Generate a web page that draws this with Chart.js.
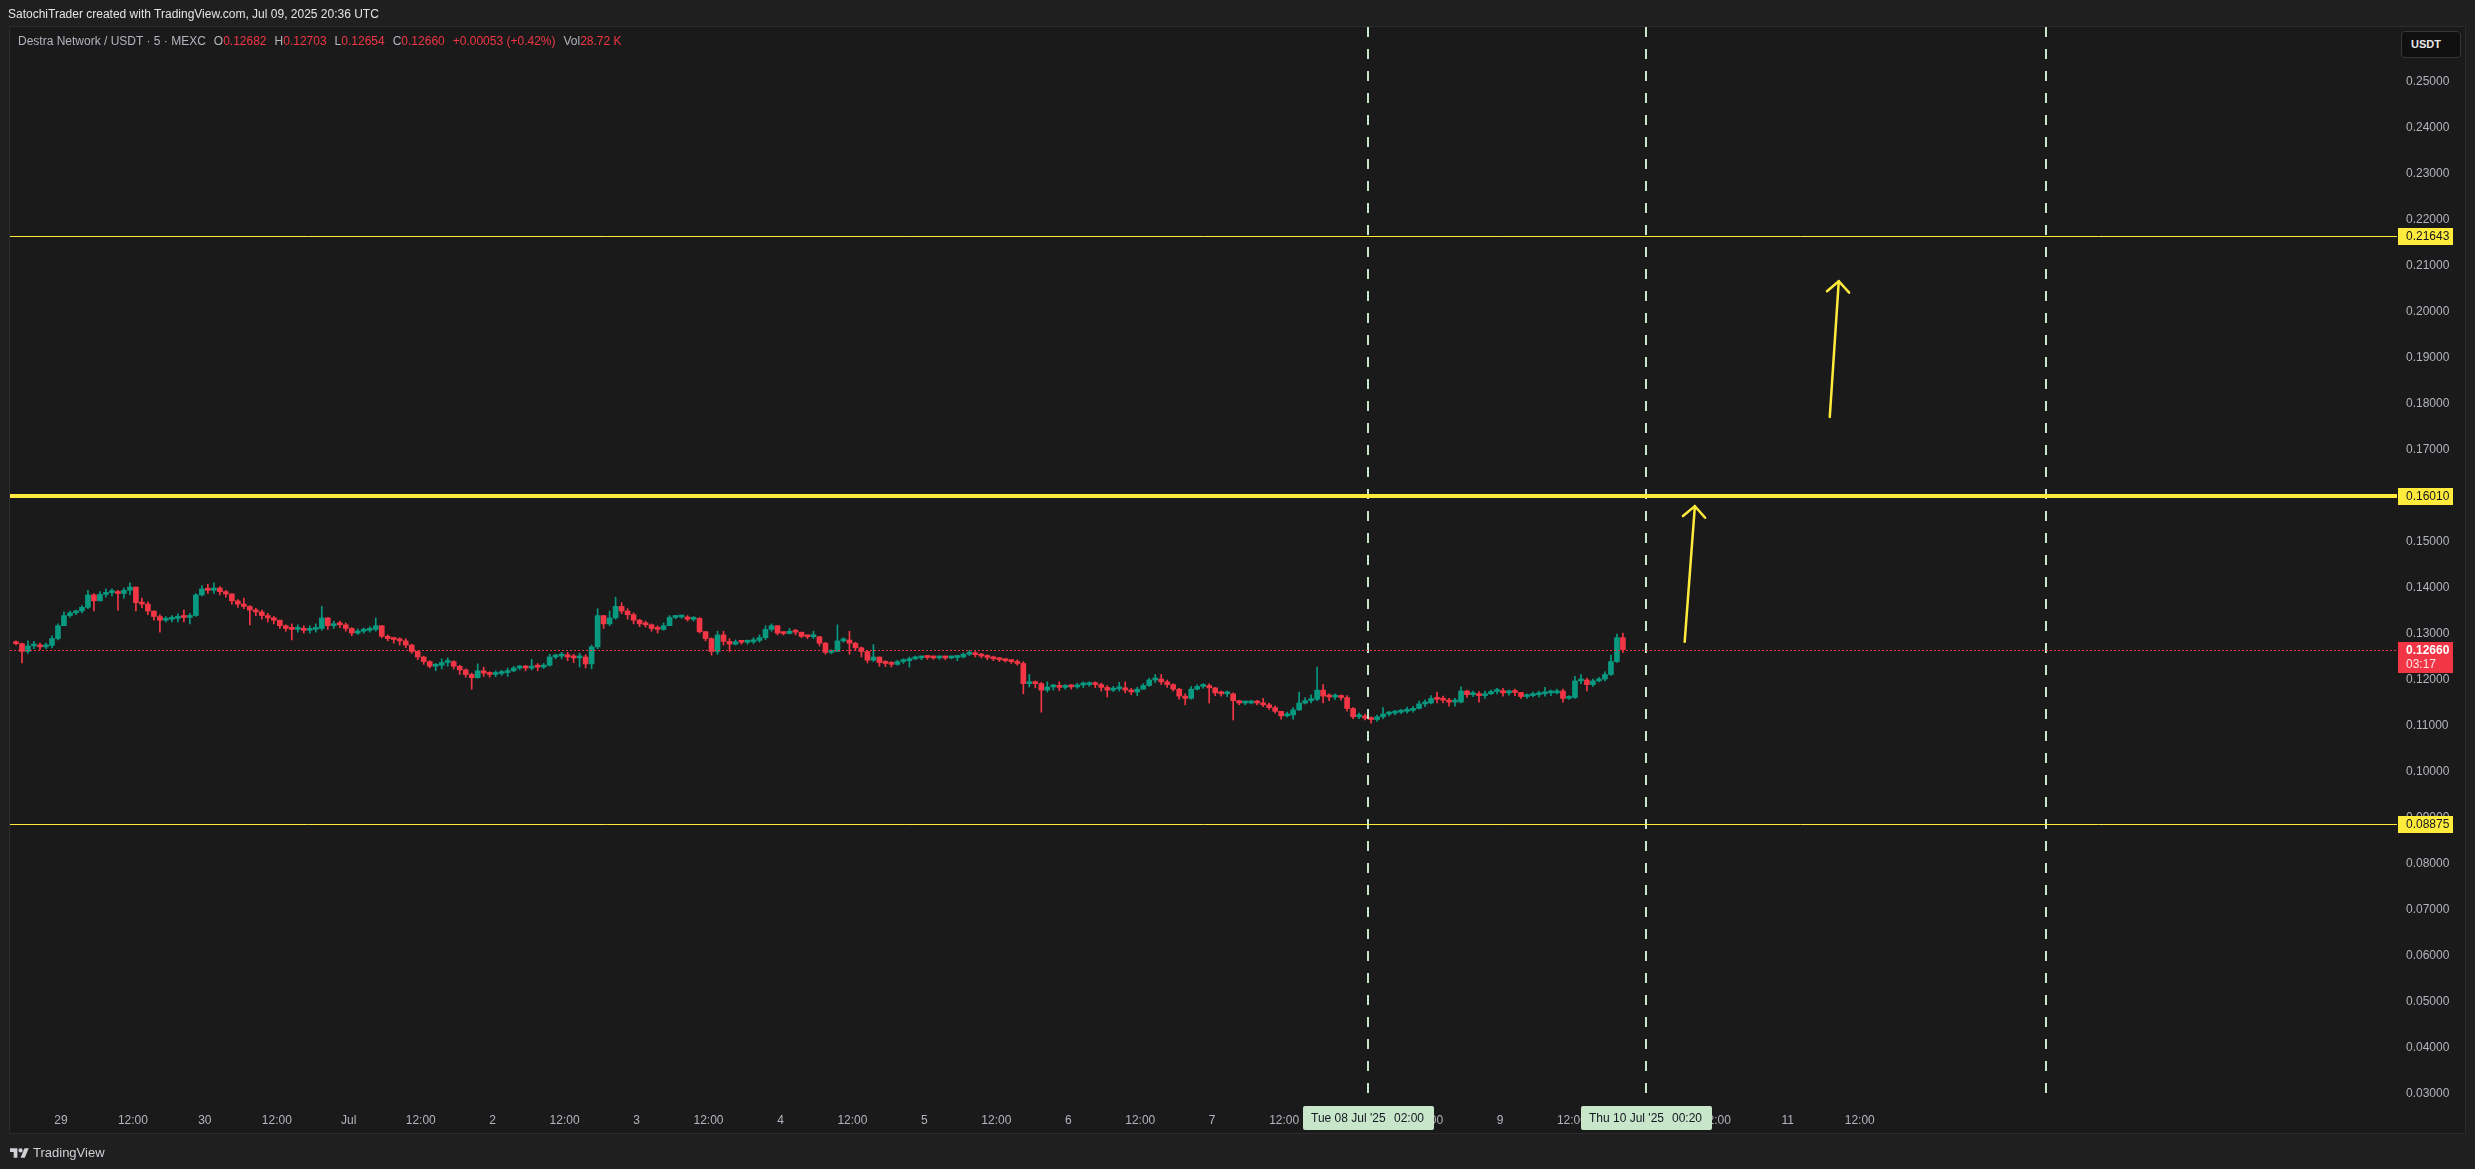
<!DOCTYPE html>
<html>
<head>
<meta charset="utf-8">
<title>Destra Network / USDT</title>
<script src="https://cdn.jsdelivr.net/npm/chart.js@4.4.1/dist/chart.umd.min.js"></script>
<style>
  html, body { margin: 0; padding: 0; background: #1f1f1f; }
  body { width: 2475px; height: 1169px; position: relative; overflow: hidden;
         font-family: "Liberation Sans", Arial, sans-serif; }
  #pane { position: absolute; left: 9px; top: 26px; width: 2457px; height: 1108px;
          background: #1a1a1a; border: 1px solid #2c2c2c; box-sizing: border-box; }
  #c { position: absolute; left: 0; top: 0; }
  #title { position: absolute; left: 8px; top: 7px; font-size: 12px; color: #e4e4e4; white-space: nowrap; }
  #legend { position: absolute; left: 18px; top: 34px; font-size: 12px; color: #b2b5be; white-space: nowrap; }
  #legend .grp { margin-left: 8px; }
  #legend .r { color: #f23645; }
  #unit { position: absolute; left: 2401px; top: 31px; width: 60px; height: 27px; box-sizing: border-box;
          background: #0f0f0f; border: 1px solid #363636; border-radius: 4px; color: #e8e8e8;
          font-size: 11px; font-weight: bold; line-height: 25px; padding-left: 9px; }
  #logo { position: absolute; left: 10px; top: 1145px; height: 14px; display: flex; align-items: center;
          color: #cfd1d6; font-size: 13px; }
  #logo svg { margin-right: 4px; }
</style>
</head>
<body>
<div id="pane"></div>
<canvas id="c" width="2475" height="1169"></canvas>
<div id="title">SatochiTrader created with TradingView.com, Jul 09, 2025 20:36 UTC</div>
<div id="legend">Destra Network / USDT · 5 · MEXC<span class="grp">O<span class="r">0.12682</span></span><span class="grp">H<span class="r">0.12703</span></span><span class="grp">L<span class="r">0.12654</span></span><span class="grp">C<span class="r">0.12660</span></span><span class="grp r">+0.00053 (+0.42%)</span><span class="grp">Vol<span class="r">28.72 K</span></span></div>
<div id="unit">USDT</div>
<div id="logo"><svg width="19" height="13" viewBox="0 0 36 24"><path d="M14 22H7V11H0V4h14v18z" fill="#cfd1d6"/><circle cx="20" cy="8" r="4" fill="#cfd1d6"/><path d="M28 22h-8l7.5-18h8L28 22z" fill="#cfd1d6"/></svg>TradingView</div>

<script>
// hourly candles, first one starts 28 Jun 16:00 UTC (hours counted from 29 Jun 00:00 UTC)
const startHour = -8;
const firstOpen = 0.1281;

const closes = [
  0.1279,0.1262,0.1274,0.1276,0.1272,0.1275,0.1290,0.1318,0.1340,0.1346,0.1350,0.1358,
  0.1385,0.1372,0.1386,0.1390,0.1392,0.1388,0.1395,0.1402,0.1368,0.1365,0.1350,0.1338,
  0.1330,0.1332,0.1334,0.1338,0.1336,0.1340,0.1385,0.1398,0.1395,0.1400,0.1392,0.1387,
  0.1372,0.1365,0.1360,0.1352,0.1348,0.1340,0.1335,0.1330,0.1318,0.1312,0.1310,0.1312,
  0.1308,0.1310,0.1312,0.1335,0.1318,0.1322,0.1320,0.1312,0.1302,0.1306,0.1308,0.1310,
  0.1318,0.1295,0.1290,0.1288,0.1285,0.1276,0.1262,0.1250,0.1240,0.1230,0.1232,0.1238,
  0.1240,0.1230,0.1222,0.1212,0.1205,0.1220,0.1215,0.1212,0.1214,0.1216,0.1220,0.1226,
  0.1228,0.1226,0.1230,0.1228,0.1232,0.1250,0.1252,0.1255,0.1250,0.1248,0.1250,0.1235,
  0.1272,0.1340,0.1322,0.1335,0.1360,0.1350,0.1342,0.1330,0.1322,0.1320,0.1312,0.1310,
  0.1318,0.1336,0.1337,0.1337,0.1332,0.1334,0.1305,0.1290,0.1262,0.1298,0.1284,0.1278,
  0.1283,0.1282,0.1283,0.1286,0.1292,0.1310,0.1318,0.1302,0.1301,0.1306,0.1304,0.1295,
  0.1294,0.1294,0.1280,0.1260,0.1262,0.1285,0.1287,0.1280,0.1270,0.1262,0.1243,0.1250,
  0.1238,0.1236,0.1234,0.1240,0.1242,0.1246,0.1248,0.1250,0.1249,0.1248,0.1249,0.1248,
  0.1249,0.1250,0.1256,0.1258,0.1255,0.1252,0.1249,0.1246,0.1244,0.1242,0.1240,0.1236,
  0.1192,0.1194,0.1192,0.1178,0.1185,0.1186,0.1184,0.1186,0.1185,0.1189,0.1190,0.1192,
  0.1190,0.1184,0.1178,0.1181,0.1183,0.1178,0.1174,0.1180,0.1188,0.1200,0.1202,0.1196,
  0.1190,0.1180,0.1165,0.1160,0.1180,0.1186,0.1188,0.1183,0.1172,0.1170,0.1170,0.1155,
  0.1150,0.1150,0.1152,0.1150,0.1146,0.1140,0.1132,0.1122,0.1124,0.1135,0.1150,0.1155,
  0.1158,0.1178,0.1165,0.1163,0.1165,0.1162,0.1138,0.1120,0.1122,0.1117,0.1114,0.1120,
  0.1126,0.1128,0.1130,0.1132,0.1134,0.1138,0.1148,0.1150,0.1160,0.1158,0.1156,0.1152,
  0.1152,0.1176,0.1168,0.1170,0.1166,0.1170,0.1175,0.1177,0.1172,0.1174,0.1173,0.1164,
  0.1166,0.1168,0.1170,0.1172,0.1172,0.1176,0.1160,0.1162,0.1198,0.1200,0.1190,0.1198,
  0.1202,0.1212,0.1240,0.1292,0.1266
];

const highs = [
  0.1285,0.1280,0.1285,0.1284,0.1280,0.1280,0.1296,0.1322,0.1348,0.1350,0.1352,0.1362,
  0.1395,0.1388,0.1392,0.1398,0.1398,0.1395,0.1400,0.1411,0.1402,0.1378,0.1370,0.1350,
  0.1342,0.1338,0.1340,0.1344,0.1352,0.1345,0.1388,0.1405,0.1408,0.1411,0.1403,0.1395,
  0.1388,0.1375,0.1378,0.1362,0.1356,0.1352,0.1345,0.1338,0.1330,0.1320,0.1322,0.1320,
  0.1318,0.1318,0.1322,0.1360,0.1336,0.1328,0.1328,0.1324,0.1314,0.1311,0.1313,0.1316,
  0.1335,0.1318,0.1298,0.1293,0.1292,0.1290,0.1278,0.1263,0.1252,0.1242,0.1236,0.1246,
  0.1248,0.1242,0.1232,0.1224,0.1215,0.1235,0.1228,0.1218,0.1220,0.1221,0.1226,0.1230,
  0.1232,0.1232,0.1245,0.1236,0.1236,0.1256,0.1256,0.1260,0.1260,0.1256,0.1258,0.1255,
  0.1276,0.1355,0.1340,0.1350,0.1380,0.1368,0.1355,0.1346,0.1332,0.1328,0.1322,0.1318,
  0.1324,0.1340,0.1340,0.1340,0.1340,0.1338,0.1336,0.1306,0.1292,0.1306,0.1306,0.1290,
  0.1287,0.1286,0.1287,0.1292,0.1298,0.1318,0.1322,0.1318,0.1304,0.1312,0.1310,0.1304,
  0.1297,0.1306,0.1295,0.1282,0.1266,0.1320,0.1292,0.1306,0.1282,0.1272,0.1264,0.1277,
  0.1250,0.1242,0.1240,0.1243,0.1246,0.1250,0.1252,0.1252,0.1252,0.1252,0.1252,0.1252,
  0.1252,0.1253,0.1259,0.1264,0.1262,0.1258,0.1255,0.1252,0.1249,0.1246,0.1244,0.1244,
  0.1240,0.1212,0.1198,0.1195,0.1196,0.1190,0.1196,0.1190,0.1190,0.1193,0.1196,0.1196,
  0.1196,0.1193,0.1188,0.1186,0.1195,0.1196,0.1182,0.1184,0.1192,0.1204,0.1212,0.1212,
  0.1200,0.1192,0.1182,0.1170,0.1186,0.1190,0.1192,0.1192,0.1184,0.1176,0.1176,0.1172,
  0.1156,0.1154,0.1156,0.1156,0.1160,0.1150,0.1144,0.1132,0.1130,0.1140,0.1174,0.1162,
  0.1168,0.1228,0.1190,0.1170,0.1170,0.1168,0.1166,0.1140,0.1128,0.1126,0.1120,0.1124,
  0.1140,0.1132,0.1134,0.1136,0.1141,0.1143,0.1154,0.1157,0.1166,0.1174,0.1165,0.1160,
  0.1160,0.1185,0.1178,0.1176,0.1175,0.1176,0.1178,0.1182,0.1182,0.1178,0.1180,0.1172,
  0.1170,0.1174,0.1176,0.1184,0.1178,0.1180,0.1180,0.1166,0.1208,0.1212,0.1204,0.1202,
  0.1206,0.1218,0.1254,0.1300,0.1302
];

const lows = [
  0.1276,0.1237,0.1258,0.1268,0.1266,0.1268,0.1270,0.1287,0.1318,0.1336,0.1342,0.1346,
  0.1355,0.1350,0.1372,0.1380,0.1383,0.1352,0.1378,0.1385,0.1350,0.1357,0.1342,0.1330,
  0.1304,0.1326,0.1326,0.1326,0.1326,0.1322,0.1338,0.1383,0.1388,0.1388,0.1385,0.1380,
  0.1365,0.1358,0.1355,0.1320,0.1340,0.1332,0.1326,0.1322,0.1312,0.1306,0.1287,0.1304,
  0.1302,0.1302,0.1304,0.1308,0.1310,0.1312,0.1314,0.1306,0.1296,0.1299,0.1302,0.1304,
  0.1306,0.1292,0.1285,0.1280,0.1276,0.1270,0.1258,0.1244,0.1234,0.1226,0.1220,0.1224,
  0.1230,0.1224,0.1212,0.1206,0.1180,0.1204,0.1208,0.1206,0.1207,0.1210,0.1208,0.1218,
  0.1222,0.1220,0.1222,0.1220,0.1225,0.1230,0.1246,0.1246,0.1242,0.1238,0.1228,0.1226,
  0.1224,0.1268,0.1312,0.1318,0.1332,0.1344,0.1332,0.1322,0.1316,0.1315,0.1306,0.1302,
  0.1308,0.1318,0.1333,0.1334,0.1328,0.1328,0.1302,0.1285,0.1254,0.1256,0.1276,0.1262,
  0.1276,0.1278,0.1278,0.1279,0.1282,0.1288,0.1306,0.1298,0.1298,0.1300,0.1298,0.1292,
  0.1290,0.1290,0.1274,0.1256,0.1257,0.1262,0.1282,0.1256,0.1264,0.1250,0.1237,0.1240,
  0.1230,0.1229,0.1228,0.1232,0.1236,0.1228,0.1244,0.1244,0.1245,0.1245,0.1245,0.1244,
  0.1246,0.1242,0.1248,0.1253,0.1250,0.1248,0.1244,0.1242,0.1240,0.1239,0.1236,0.1232,
  0.1170,0.1185,0.1183,0.1130,0.1174,0.1178,0.1177,0.1180,0.1180,0.1182,0.1183,0.1186,
  0.1183,0.1176,0.1163,0.1175,0.1176,0.1172,0.1168,0.1166,0.1180,0.1186,0.1194,0.1190,
  0.1184,0.1176,0.1158,0.1146,0.1158,0.1178,0.1182,0.1150,0.1166,0.1165,0.1164,0.1113,
  0.1146,0.1146,0.1148,0.1146,0.1142,0.1136,0.1128,0.1115,0.1120,0.1115,0.1134,0.1148,
  0.1150,0.1155,0.1150,0.1155,0.1158,0.1156,0.1132,0.1116,0.1116,0.1113,0.1106,0.1110,
  0.1116,0.1122,0.1124,0.1127,0.1128,0.1130,0.1137,0.1142,0.1148,0.1150,0.1150,0.1143,
  0.1143,0.1150,0.1162,0.1164,0.1152,0.1160,0.1168,0.1170,0.1165,0.1167,0.1166,0.1160,
  0.1160,0.1163,0.1163,0.1165,0.1166,0.1170,0.1152,0.1158,0.1160,0.1192,0.1176,0.1186,
  0.1196,0.1198,0.1210,0.1238,0.1260
];

// axis ticks
const priceTicks = [0.03,0.04,0.05,0.06,0.07,0.08,0.09,0.10,0.11,0.12,0.13,0.14,
                    0.15,0.16,0.17,0.18,0.19,0.20,0.21,0.22,0.23,0.24,0.25];
const timeTickHours = [0,12,24,36,48,60,72,84,96,108,120,132,144,156,168,180,192,204,216,228,240,252,264,276,288,300];
const timeTickLabels = ['29','12:00','30','12:00','Jul','12:00','2','12:00','3','12:00','4','12:00','5','12:00',
                        '6','12:00','7','12:00','8','12:00','9','12:00','10','12:00','11','12:00'];

// drawings
const levelPrices = [0.21643, 0.16010, 0.08875];
const markerHours = [218, 264.333, 331];
const markerDates = ["Tue 08 Jul '25", "Thu 10 Jul '25", null];
const markerTimes = ['02:00', '00:20', null];
const arrowFromHours = [270.8, 295.0];
const arrowFromPrices = [0.1283, 0.1772];
const arrowToHours = [272.5, 296.5];
const arrowToPrices = [0.1578, 0.2067];
const lastPrice = 0.12660;
const countdown = '03:17';

// view / style
const FONT = '"Liberation Sans", Arial, sans-serif';
const UP = '#089981', DOWN = '#f23645', YELLOW = '#ffeb3b', MARK = '#c8e6c9', AXIS_TXT = '#b2b5be';
const levelWidths = [1, 4, 1];

const candles = closes.map((c, i) => {
  const o = i === 0 ? firstOpen : closes[i - 1];
  return { x: startHour + i + 0.5, o: o, h: highs[i], l: lows[i], c: c };
});
const candleColors = candles.map(k => k.c >= k.o ? UP : DOWN);

const overlay = {
  id: 'overlay',
  afterDatasetsDraw(chart) {
    const { ctx, chartArea: a, scales: { x, y } } = chart;
    ctx.save();
    ctx.beginPath();
    ctx.rect(a.left, a.top, a.right - a.left, a.bottom - a.top);
    ctx.clip();

    // dashed time markers
    ctx.strokeStyle = MARK;
    ctx.lineWidth = 2;
    ctx.setLineDash([10, 12]);
    markerHours.forEach(h => {
      const px = Math.round(x.getPixelForValue(h));
      ctx.beginPath();
      ctx.moveTo(px, a.top);
      ctx.lineTo(px, a.bottom);
      ctx.stroke();
    });
    ctx.setLineDash([]);

    // horizontal levels
    ctx.strokeStyle = YELLOW;
    levelPrices.forEach((p, i) => {
      let py = Math.round(y.getPixelForValue(p));
      if (levelWidths[i] % 2) py += 0.5;
      ctx.lineWidth = levelWidths[i];
      ctx.beginPath();
      ctx.moveTo(a.left, py);
      ctx.lineTo(a.right, py);
      ctx.stroke();
    });

    // last price line
    const ly = Math.round(y.getPixelForValue(lastPrice)) + 0.5;
    ctx.strokeStyle = DOWN;
    ctx.lineWidth = 1;
    ctx.setLineDash([2, 2]);
    ctx.beginPath();
    ctx.moveTo(a.left, ly);
    ctx.lineTo(a.right, ly);
    ctx.stroke();
    ctx.setLineDash([]);

    // arrows
    ctx.strokeStyle = YELLOW;
    ctx.lineWidth = 2.5;
    ctx.lineCap = 'round';
    arrowFromHours.forEach((h, i) => {
      const x0 = x.getPixelForValue(h), y0 = y.getPixelForValue(arrowFromPrices[i]);
      const x1 = x.getPixelForValue(arrowToHours[i]), y1 = y.getPixelForValue(arrowToPrices[i]);
      const back = Math.atan2(y0 - y1, x0 - x1);
      ctx.beginPath();
      ctx.moveTo(x0, y0);
      ctx.lineTo(x1, y1);
      ctx.stroke();
      ctx.beginPath();
      ctx.moveTo(x1 + 15.5 * Math.cos(back - 0.8), y1 + 15.5 * Math.sin(back - 0.8));
      ctx.lineTo(x1, y1);
      ctx.lineTo(x1 + 15.5 * Math.cos(back + 0.8), y1 + 15.5 * Math.sin(back + 0.8));
      ctx.stroke();
    });
    ctx.restore();
  },
  afterDraw(chart) {
    const { ctx, chartArea: a, scales: { x, y } } = chart;
    ctx.save();
    ctx.font = '12px ' + FONT;
    ctx.textBaseline = 'middle';

    // price tags on the axis
    levelPrices.forEach(p => {
      const py = Math.round(y.getPixelForValue(p));
      ctx.fillStyle = YELLOW;
      ctx.fillRect(a.right + 1, py - 8, 55, 17);
      ctx.fillStyle = '#131722';
      ctx.textAlign = 'left';
      ctx.fillText(p.toFixed(5), a.right + 9, py + 1);
    });
    const lp = Math.round(y.getPixelForValue(lastPrice));
    ctx.fillStyle = DOWN;
    ctx.fillRect(a.right + 1, lp - 8, 55, 31);
    ctx.fillStyle = '#ffffff';
    ctx.font = 'bold 12px ' + FONT;
    ctx.fillText(lastPrice.toFixed(5), a.right + 9, lp + 1);
    ctx.font = '12px ' + FONT;
    ctx.fillStyle = '#ffe4e6';
    ctx.fillText(countdown, a.right + 9, lp + 15);

    // time labels of the markers
    markerHours.forEach((h, i) => {
      if (!markerDates[i]) return;
      const px = Math.round(x.getPixelForValue(h));
      ctx.fillStyle = MARK;
      ctx.beginPath();
      ctx.roundRect(px - 65, a.bottom + 1, 131, 24, 2);
      ctx.fill();
      ctx.fillStyle = '#131722';
      ctx.textAlign = 'left';
      ctx.fillText(markerDates[i], px - 57, a.bottom + 14);
      ctx.textAlign = 'right';
      ctx.fillText(markerTimes[i], px + 56, a.bottom + 14);
    });
    ctx.restore();
  }
};

new Chart(document.getElementById('c'), {
  type: 'bar',
  data: {
    datasets: [
      {
        label: 'wicks',
        data: candles.map(k => ({ x: k.x, y: [Math.min(k.l, k.o, k.c), Math.max(k.h, k.o, k.c)] })),
        backgroundColor: candleColors,
        barThickness: 1,
        grouped: false,
        order: 2
      },
      {
        label: 'bodies',
        data: candles.map(k => ({ x: k.x, y: [k.o, k.c] })),
        backgroundColor: candleColors,
        barThickness: 5,
        minBarLength: 2,
        grouped: false,
        order: 1
      }
    ]
  },
  options: {
    responsive: false,
    animation: false,
    events: [],
    layout: { padding: { left: 10, right: 10, top: 27, bottom: 36 } },
    plugins: { legend: { display: false }, tooltip: { enabled: false } },
    scales: {
      x: {
        type: 'linear',
        min: -8.5,
        max: 389.6,
        offset: false,
        grid: { display: false, drawTicks: false },
        border: { display: false },
        afterBuildTicks: s => { s.ticks = timeTickHours.map(v => ({ value: v })); },
        afterFit: s => { s.height = 28; },
        ticks: {
          autoSkip: false,
          maxRotation: 0,
          padding: 8,
          color: AXIS_TXT,
          font: { family: FONT, size: 12 },
          callback: (v, i) => timeTickLabels[i]
        }
      },
      y: {
        type: 'linear',
        position: 'right',
        min: 0.027609,
        max: 0.261957,
        beginAtZero: false,
        grid: { display: false, drawTicks: false },
        border: { display: false },
        afterBuildTicks: s => { s.ticks = priceTicks.map(v => ({ value: v })); },
        afterFit: s => { s.width = 68; },
        ticks: {
          padding: 9,
          color: AXIS_TXT,
          font: { family: FONT, size: 12 },
          callback: v => v.toFixed(5)
        }
      }
    }
  },
  plugins: [overlay]
});
</script>
</body>
</html>
